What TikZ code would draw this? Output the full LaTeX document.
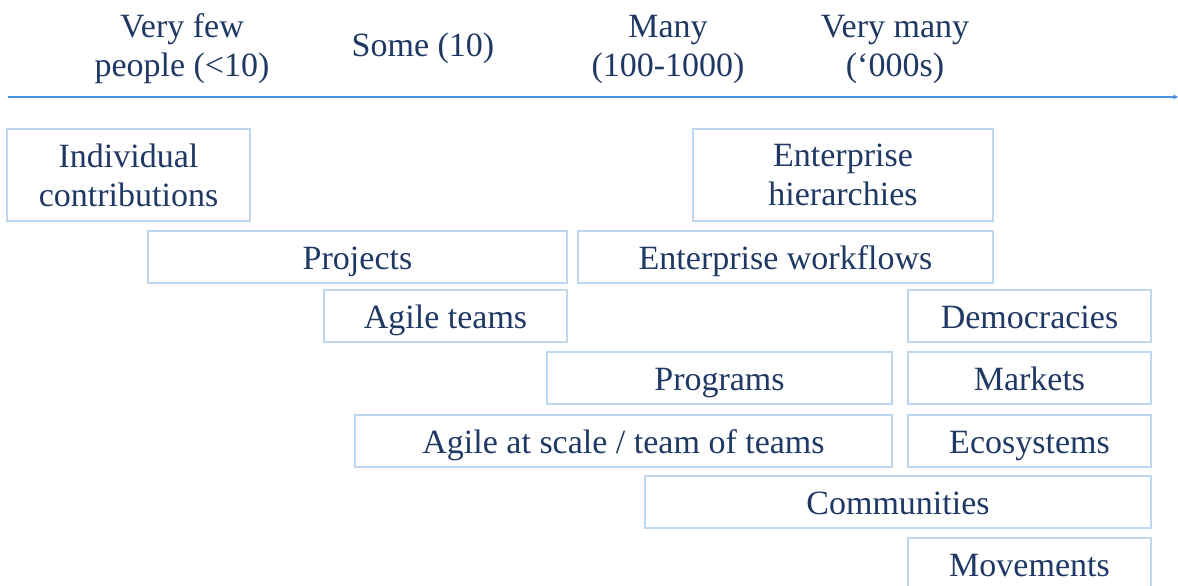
\documentclass[tikz,border=0pt]{standalone}
\usepackage{fontspec}
\setmainfont{Liberation Serif}
\usepackage{tikz}
\usetikzlibrary{arrows.meta,positioning}
\definecolor{textnavy}{RGB}{31,56,100}
\definecolor{boxblue}{RGB}{189,215,238}
\definecolor{axisblue}{RGB}{74,144,226}
\tikzset{
  lbl/.style={text=textnavy,align=center,inner sep=0pt,font=\fontsize{34}{39}\selectfont},
  cell/.style={lbl,draw=boxblue,line width=1.6pt,rectangle,minimum height=52pt},
  onecell/.style={cell,text height=26pt,text depth=2pt}
}

\begin{document}
\begin{tikzpicture}[x=1pt,y=-1pt]
  \useasboundingbox (0,0) rectangle (1178,586);
  % scale axis
  \coordinate (ax0) at (8,97);
  \coordinate (ax1) at (1178,97);
  \draw[axisblue,line width=1.5pt,-{Stealth[length=5pt,width=5pt]}] (ax0) -- (ax1);
  \node[lbl] (few) at (182,49) {Very few\\people (<10)};
  \node[lbl] (some) at (423,48) {Some (10)};
  \node[lbl] (many) at (668,49) {Many\\(100-1000)};
  \node[lbl] (vmany) at (895,49) {Very many\\(‘000s)};
  % forms of organising
  \node[cell,minimum width=243pt,minimum height=92pt] (indiv) at (128.5,175) {Individual\\contributions};
  \node[cell,minimum width=300pt,minimum height=92pt] (enthier) at (843,175) {Enterprise\\hierarchies};
  \node[onecell,minimum width=419pt] (projects) at (357.5,257) {Projects};
  \node[onecell,minimum width=415pt] (entwork) at (785.5,257) {Enterprise workflows};
  \node[onecell,minimum width=243pt] (agile) at (445.5,316) {Agile teams};
  \node[onecell,minimum width=243pt] (democ) at (1029.5,316) {Democracies};
  \node[onecell,minimum width=345pt] (programs) at (719.5,378) {Programs};
  \node[onecell,minimum width=243pt] (markets) at (1029.5,378) {Markets};
  \node[onecell,minimum width=537pt] (scale) at (623.5,441) {Agile at scale / team of teams};
  \node[onecell,minimum width=243pt] (ecosys) at (1029.5,441) {Ecosystems};
  \node[onecell,minimum width=506pt] (commun) at (898,502) {Communities};
  \node[onecell,minimum width=243pt] (moves) at (1029.5,564) {Movements};
\end{tikzpicture}
\end{document}
